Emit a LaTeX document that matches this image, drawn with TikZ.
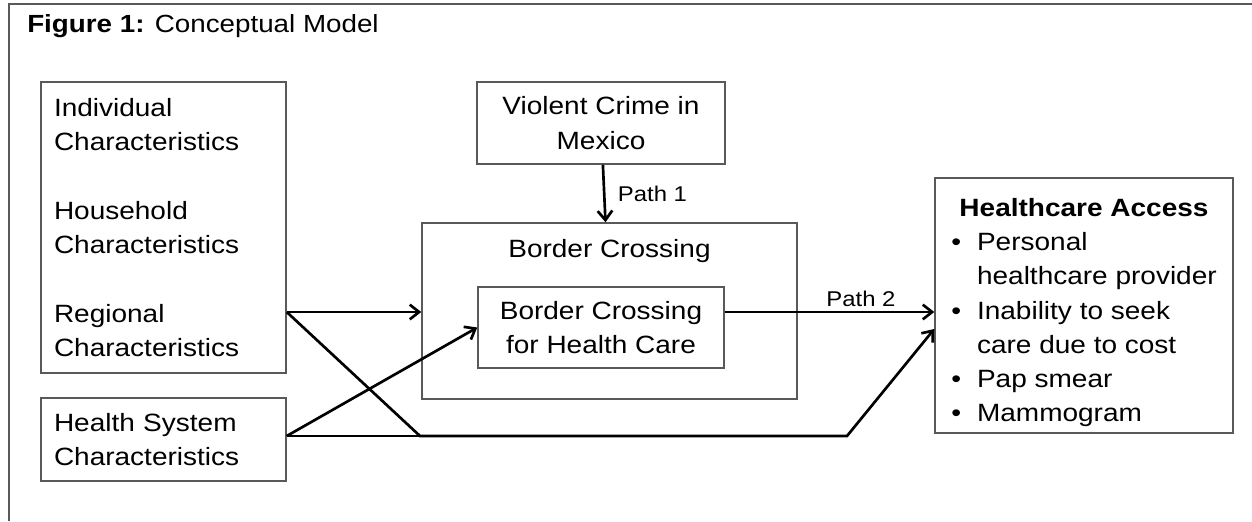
\documentclass[tikz,border=0pt]{standalone}
\usepackage{fontspec}
\setmainfont{Liberation Sans}[FakeStretch=1.12]
\usetikzlibrary{arrows.meta}

\newcommand\bodyfont{\fontsize{18.75pt}{25.7pt}\selectfont}
\newcommand\pathfont{\fontsize{16pt}{19pt}\selectfont}
\newcommand\titlefont{\fontsize{18.6pt}{22pt}\selectfont}

\begin{document}
\begin{tikzpicture}[x=0.75pt,y=-0.75pt,font=\bodyfont,
    box/.style={draw=black!65,line width=1.1pt,inner sep=0pt},
    arr/.style={line width=2pt,-{Straight Barb[length=7pt,width=11pt,line width=2pt]}},
    wire/.style={line width=2pt},
    pathlbl/.style={font=\pathfont}]
    \def\u{0.75pt}
    \useasboundingbox (0,0) rectangle (1252,521);
    \draw[draw=black!65,line width=1.4pt] (9,521) -- (9,4) -- (1252,4);
    \node[anchor=base west,inner sep=0pt] (title) at (27,32) {\titlefont\textbf{Figure 1:} Conceptual Model};

    % left column
    \node[box,minimum width={245*\u},minimum height={291*\u},text width={219*\u},align=left] (charbox) at (163.5,227.5)
        {Individual\\Characteristics\\[25.7pt]Household\\Characteristics\\[25.7pt]Regional\\Characteristics};
    \node[box,minimum width={245*\u},minimum height={83*\u},text width={219*\u},align=left] (healthbox) at (163.5,439.5)
        {Health System\\Characteristics};

    % middle
    \node[box,minimum width={248*\u},minimum height={82*\u},align=center] (crimebox) at (601,123)
        {Violent Crime in\\Mexico};
    \node[box,minimum width={375*\u},minimum height={176*\u},
        label={[anchor=base,yshift={-35*\u}]north:Border Crossing}] (bordbox) at (609.5,311) {};
    \node[box,minimum width={246*\u},minimum height={81*\u},align=center] (hcbox) at (601,327.5)
        {Border Crossing\\for Health Care};

    % right
    \node[box,minimum width={298*\u},minimum height={255*\u},align=center] (accessbox) at (1084,305.5)
        {\rule{0pt}{28pt}\textbf{Healthcare Access}\\
        \begin{tabular}[t]{@{}l@{\hspace{12pt}}l@{}}
        \textbullet & Personal\\
                    & healthcare provider\\
        \textbullet & Inability to seek\\
                    & care due to cost\\
        \textbullet & Pap smear\\
        \textbullet & Mammogram
        \end{tabular}};

    \coordinate (lvl) at (0,312);
    \coordinate (knee) at (420,436);
    \coordinate (kink) at (847,436);
    \coordinate (tipB) at (0,329);

    \draw[arr] (crimebox) -- node[right,pathlbl,xshift=6pt] {Path 1} (bordbox);
    \draw[arr] (charbox.east |- lvl) -- (bordbox.west |- lvl);
    \draw[arr] (hcbox.east |- lvl) -- node[above,pathlbl,pos=0.65] {Path 2} (accessbox.west |- lvl);
    \draw[arr] (charbox.east |- lvl) -- (knee) -- (kink) -- (accessbox.west |- tipB);
    \draw[wire] (healthbox.east |- knee) -- (knee);
    \draw[arr] (healthbox.east |- knee) -- (hcbox.west);
\end{tikzpicture}
\end{document}
